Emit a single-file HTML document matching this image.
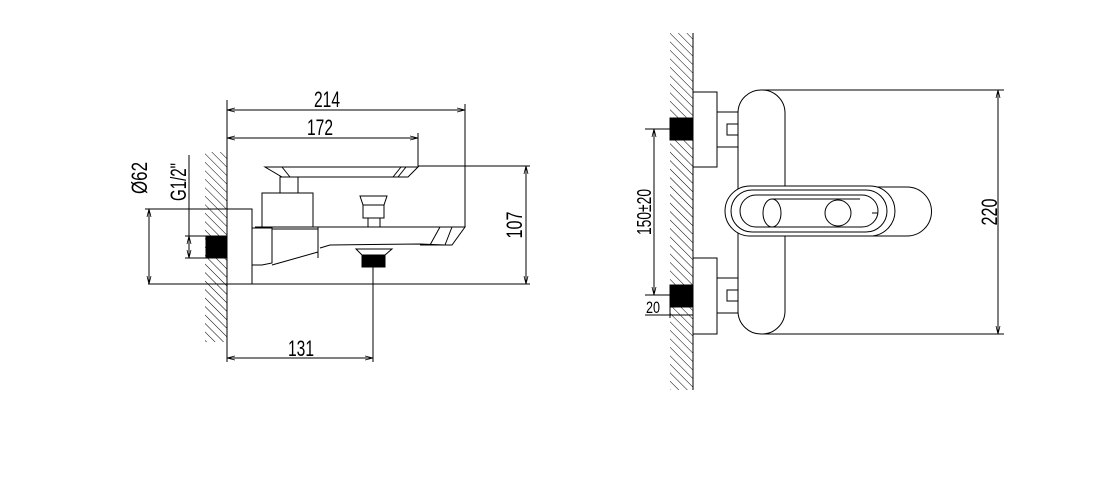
<!DOCTYPE html>
<html><head><meta charset="utf-8"><style>html,body{margin:0;padding:0;background:#fff}svg{display:block}</style></head>
<body>
<svg width="1096" height="492" viewBox="0 0 1096 492" xmlns="http://www.w3.org/2000/svg" font-family="Liberation Sans, sans-serif" font-size="20">
<defs>
<pattern id="h" width="6" height="6" patternUnits="userSpaceOnUse" patternTransform="rotate(-45)">
<line x1="0" y1="0" x2="0" y2="6" stroke="#000" stroke-width="1"/>
</pattern>
<marker id="a" markerWidth="8" markerHeight="6" refX="8" refY="3" orient="auto-start-reverse" markerUnits="userSpaceOnUse">
<path d="M0,1 L8,3 L0,5" fill="none" stroke="#000" stroke-width="0.8"/>
</marker>
</defs>
<g stroke="#000" stroke-width="1" fill="none">
<rect x="205" y="152" width="22" height="190" fill="url(#h)" stroke="none"/>
<line x1="227" y1="100" x2="227" y2="362"/>
<line x1="227" y1="110" x2="465" y2="110" marker-start="url(#a)" marker-end="url(#a)"/>
<line x1="465" y1="104" x2="465" y2="227"/>
<line x1="227" y1="138" x2="418" y2="138" marker-start="url(#a)" marker-end="url(#a)"/>
<line x1="418" y1="133" x2="418" y2="167"/>
<line x1="418" y1="166" x2="530" y2="166"/>
<line x1="148" y1="284" x2="530" y2="284"/>
<line x1="526" y1="166" x2="526" y2="284" marker-start="url(#a)" marker-end="url(#a)"/>
<line x1="145" y1="209" x2="227" y2="209"/>
<line x1="149" y1="209" x2="149" y2="284" marker-start="url(#a)" marker-end="url(#a)"/>
<line x1="189" y1="155" x2="189" y2="258"/>
<line x1="185" y1="236" x2="206" y2="236"/>
<line x1="185" y1="258" x2="206" y2="258"/>
<line x1="189" y1="236" x2="189" y2="258" marker-start="url(#a)" marker-end="url(#a)"/>
<rect x="206" y="236" width="21" height="22" fill="#000"/>
<rect x="227" y="209" width="25" height="75"/>
<path d="M265,167 L418,167 L408,177 L282,177 Z"/>
<line x1="282" y1="167" x2="290" y2="177"/>
<line x1="398" y1="177" x2="406" y2="167"/>
<line x1="393" y1="177" x2="401" y2="167"/>
<rect x="280" y="177" width="18" height="16"/>
<rect x="262" y="193" width="51" height="34"/>
<path d="M255,227 L465,227 L452,245 L420,245"/>
<path d="M252,228 L272,228 L272,263 L262,265 L252,265"/>
<path d="M272,229 L318,229 L318,252 L272,265"/>
<line x1="318" y1="227" x2="318" y2="258"/>
<path d="M320,248 L330,245 L420,244 L445,245"/>
<line x1="440" y1="227" x2="430" y2="245"/>
<line x1="452" y1="227" x2="445" y2="245"/>
<path d="M360,196 L387,196 L384,205 L384,218 L363,218 L363,205 Z"/>
<line x1="363" y1="205" x2="384" y2="205"/>
<rect x="368" y="218" width="12" height="9"/>
<path d="M356,249 L392,249 L385,255 L362,255 Z"/>
<rect x="362" y="255" width="23" height="12" fill="#000"/>
<line x1="373" y1="267" x2="373" y2="362"/>
<line x1="227" y1="358" x2="373" y2="358" marker-start="url(#a)" marker-end="url(#a)"/>

<rect x="670" y="33" width="23" height="357" fill="url(#h)" stroke="none"/>
<line x1="693" y1="33" x2="693" y2="390"/>
<rect x="693" y="92" width="24" height="75" fill="#fff"/>
<rect x="693" y="258" width="24" height="76" fill="#fff"/>
<rect x="670" y="118" width="23" height="22" fill="#000"/>
<rect x="670" y="285" width="23" height="22" fill="#000"/>
<rect x="717" y="112" width="21" height="35"/>
<rect x="727" y="124" width="11" height="11"/>
<rect x="717" y="278" width="21" height="35"/>
<rect x="727" y="290" width="11" height="11"/>
<path d="M762,90 A23,23 0 0 1 785,113 L785,187 L907,187 A24.5,24.5 0 0 1 907,236 L785,236 L785,311 A23,23 0 0 1 762,334 A23,23 0 0 1 738,311 L738,113 A23,23 0 0 1 762,90 Z" fill="#fff"/>
<path d="M750,186 L870,186 A25,25 0 0 1 870,236 L750,236 A25,25 0 0 1 750,186 Z" fill="#fff"/>
<path d="M752,190 L866,190 A21,21 0 0 1 866,232 L752,232 A21,21 0 0 1 752,190 Z"/>
<path d="M756,195 L862,195 A16,16 0 0 1 862,227 L756,227 A16,16 0 0 1 756,195 Z"/>
<line x1="772" y1="199" x2="860" y2="199"/>
<line x1="772" y1="227" x2="860" y2="227"/>
<ellipse cx="772" cy="213" rx="9" ry="14"/>
<circle cx="838" cy="213" r="13"/>
<line x1="872" y1="213" x2="878" y2="213"/>
<line x1="762" y1="90" x2="1004" y2="90"/>
<line x1="762" y1="334" x2="1004" y2="334"/>
<line x1="998" y1="90" x2="998" y2="334" marker-start="url(#a)" marker-end="url(#a)"/>
<line x1="645" y1="129" x2="670" y2="129"/>
<line x1="645" y1="295" x2="670" y2="295"/>
<line x1="654" y1="129" x2="654" y2="295" marker-start="url(#a)" marker-end="url(#a)"/>
<line x1="645" y1="315" x2="693" y2="315"/>
<line x1="670" y1="307" x2="670" y2="318"/>
</g>
<g fill="#000" font-size="22">
<text x="327" y="107" text-anchor="middle" textLength="26" lengthAdjust="spacingAndGlyphs">214</text>
<text x="320" y="135" text-anchor="middle" textLength="26" lengthAdjust="spacingAndGlyphs">172</text>
<text x="301" y="356" text-anchor="middle" textLength="26" lengthAdjust="spacingAndGlyphs">131</text>
<text transform="translate(522,225) rotate(-90)" text-anchor="middle" textLength="27" lengthAdjust="spacingAndGlyphs">107</text>
<text transform="translate(147,178) rotate(-90)" text-anchor="middle" textLength="32" lengthAdjust="spacingAndGlyphs">Ø62</text>
<text transform="translate(186,182) rotate(-90)" text-anchor="middle" textLength="38" lengthAdjust="spacingAndGlyphs">G1/2"</text>
<text transform="translate(997,212) rotate(-90)" text-anchor="middle" textLength="27" lengthAdjust="spacingAndGlyphs">220</text>
<text transform="translate(651,212) rotate(-90)" text-anchor="middle" font-size="20" textLength="46" lengthAdjust="spacingAndGlyphs">150±20</text>
<text x="653" y="313" text-anchor="middle" font-size="17" textLength="14" lengthAdjust="spacingAndGlyphs">20</text>
</g>
</svg>
</body></html>
